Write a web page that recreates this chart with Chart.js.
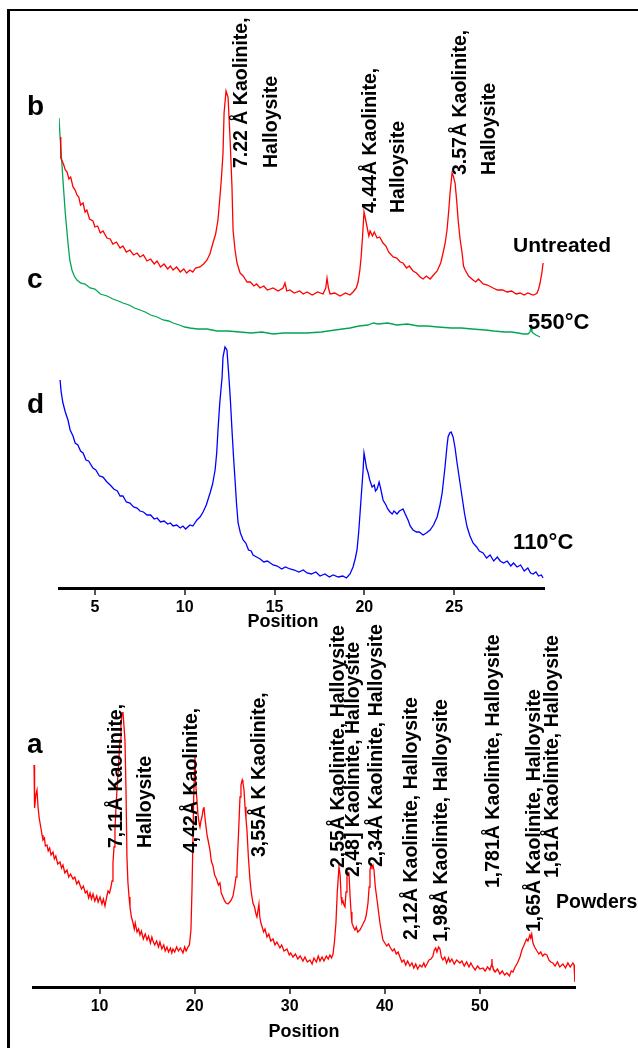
<!DOCTYPE html>
<html>
<head>
<meta charset="utf-8">
<title>XRD patterns - kaolinite / halloysite</title>
<script src="https://cdn.jsdelivr.net/npm/chart.js"></script>
<style>
  body { margin: 0; background: #fff; }
  #page { position: relative; width: 638px; height: 1048px; overflow: hidden; background: #fff; }
  #frame { position: absolute; left: 7px; top: 9px; right: -5px; bottom: -5px;
           border-left: 3px solid #000; border-top: 2px solid #000; }
  canvas { position: absolute; left: 0; }
  #topChart { top: 0; }
  #bottomChart { top: 600px; }
</style>
<script>
    // tick values on the two Position axes
    const topTicks = [5, 10, 15, 20, 25];
    const bottomTicks = [10, 20, 30, 40, 50];

    // [position, intensity] - intensities in arbitrary units, traces offset for stacking
    // b: untreated
    const untreated = [
        [3.09,451],[3.10,430],[3.25,424],[3.35,418],[3.45,416],[3.55,409],[3.65,411],[3.78,401],[3.90,398],[4.00,393],
        [4.10,391],[4.20,383],[4.34,385],[4.45,376],[4.55,378],[4.70,369],[4.89,367],[5.00,361],[5.15,362],[5.30,355],
        [5.45,357],[5.67,350],[5.85,349],[6.00,344],[6.20,346],[6.40,340],[6.56,342],[6.75,336],[6.95,338],[7.15,333],
        [7.35,335],[7.51,331],[7.70,333],[7.90,327],[8.10,329],[8.30,324],[8.46,327],[8.65,321],[8.85,324],[9.05,319],
        [9.20,322],[9.35,318],[9.55,321],[9.75,316],[9.95,319],[10.10,315],[10.29,318],[10.45,316],[10.60,320],[10.85,321],
        [11.05,324],[11.24,328],[11.40,334],[11.57,345],[11.72,354],[11.85,368],[11.96,391],[12.05,412],[12.13,435],[12.19,475],
        [12.30,497],[12.41,491],[12.52,451],[12.63,401],[12.69,358],[12.80,338],[12.91,325],[13.08,315],[13.25,312],[13.47,306],
        [13.65,306],[13.85,302],[14.00,304],[14.19,300],[14.40,302],[14.60,298],[14.92,300],[15.20,297],[15.47,300],[15.58,305],
        [15.68,297],[15.85,298],[16.10,295],[16.40,297],[16.60,294],[16.81,296],[17.10,293],[17.40,296],[17.70,294],[17.85,300],
        [17.92,310],[18.00,300],[18.09,294],[18.35,295],[18.65,292],[18.95,295],[19.20,293],[19.37,296],[19.55,300],[19.65,306],
        [19.75,318],[19.82,331],[19.90,352],[19.98,376],[20.05,370],[20.15,361],[20.25,352],[20.32,357],[20.45,352],[20.55,356],
        [20.71,350],[20.85,351],[21.04,345],[21.20,342],[21.35,336],[21.60,331],[21.80,330],[22.00,326],[22.15,325],[22.35,320],
        [22.50,322],[22.71,317],[22.90,315],[23.10,311],[23.27,309],[23.45,312],[23.66,309],[23.85,313],[24.05,317],[24.25,325],
        [24.38,335],[24.50,345],[24.60,358],[24.70,378],[24.77,395],[24.88,415],[24.95,412],[25.05,405],[25.15,385],[25.22,368],
        [25.32,350],[25.44,335],[25.52,322],[25.61,318],[25.80,312],[26.05,308],[26.20,306],[26.35,309],[26.61,304],[26.85,303],
        [27.17,300],[27.40,298],[27.70,298],[27.94,296],[28.20,297],[28.45,294],[28.67,295],[28.90,293],[29.10,295],[29.39,293],
        [29.55,294],[29.61,295],[29.70,299],[29.78,305],[29.88,315],[29.95,325]
    ];
    // c: heated to 550 C
    const heated550 = [
        [3.00,470],[3.06,451],[3.14,430],[3.22,408],[3.35,375],[3.50,345],[3.60,328],[3.72,318],[3.85,312],[4.00,308],
        [4.20,305],[4.45,304],[4.73,300],[5.00,299],[5.30,294],[5.67,292],[6.00,289],[6.30,287],[6.56,285],[6.90,283],
        [7.20,280],[7.51,278],[7.80,276],[8.10,273],[8.46,271],[8.80,268],[9.10,267],[9.35,265],[9.70,263],[10.00,261],
        [10.29,260],[10.70,259],[11.24,259],[11.80,257],[12.40,257],[13.08,256],[13.70,255],[14.30,256],[14.92,254],[15.50,255],
        [16.20,255],[16.81,255],[17.60,256],[18.37,258],[19.20,260],[19.70,262],[20.20,263],[20.50,265],[20.76,264],[21.30,265],
        [21.80,263],[22.40,264],[22.99,262],[23.50,262],[24.10,261],[24.83,260],[25.40,260],[26.00,259],[26.72,258],[27.20,257],
        [27.80,256],[28.20,256],[28.56,255],[28.85,254],[29.11,254],[29.22,256],[29.28,261],[29.33,256],[29.39,255],[29.55,253],
        [29.78,251]
    ];
    // d: dried at 110 C
    const heated110 = [
        [3.06,208],[3.12,196],[3.22,185],[3.35,176],[3.50,168],[3.62,158],[3.78,152],[3.90,145],[4.05,143],[4.20,137],
        [4.34,135],[4.50,128],[4.65,127],[4.89,120],[5.05,118],[5.25,112],[5.45,111],[5.67,106],[5.85,103],[6.05,99],
        [6.25,97],[6.40,92],[6.56,92],[6.75,86],[6.95,85],[7.15,81],[7.35,80],[7.51,77],[7.70,76],[7.90,73],
        [8.10,73],[8.30,69],[8.46,70],[8.65,66],[8.85,67],[9.05,64],[9.20,65],[9.35,62],[9.55,63],[9.75,60],
        [9.90,62],[10.05,59],[10.29,63],[10.45,62],[10.68,68],[10.85,71],[11.02,76],[11.20,83],[11.41,95],[11.55,104],
        [11.69,118],[11.78,135],[11.85,158],[11.95,185],[12.08,211],[12.13,231],[12.24,241],[12.35,238],[12.47,208],[12.55,185],
        [12.63,158],[12.72,130],[12.80,108],[12.88,85],[12.97,65],[13.10,55],[13.25,48],[13.40,45],[13.55,38],[13.70,37],
        [13.80,33],[14.00,31],[14.20,29],[14.40,26],[14.60,27],[14.92,23],[15.15,22],[15.40,19],[15.60,21],[15.86,19],
        [16.10,18],[16.35,16],[16.60,18],[16.81,15],[17.05,14],[17.30,16],[17.53,12],[17.80,14],[18.05,11],[18.26,13],
        [18.55,11],[18.80,12],[19.00,10],[19.20,14],[19.37,21],[19.50,30],[19.59,38],[19.68,55],[19.76,75],[19.85,98],
        [19.93,118],[19.98,135],[20.05,128],[20.12,120],[20.21,115],[20.30,108],[20.43,101],[20.55,103],[20.62,97],[20.71,99],
        [20.82,106],[20.90,100],[21.04,88],[21.20,83],[21.30,79],[21.43,76],[21.55,74],[21.65,77],[21.82,74],[21.95,77],
        [22.05,78],[22.15,79],[22.30,73],[22.43,68],[22.55,62],[22.71,58],[22.90,56],[23.05,56],[23.27,53],[23.45,55],
        [23.66,58],[23.85,63],[24.05,71],[24.20,82],[24.33,95],[24.49,121],[24.60,142],[24.66,151],[24.75,155],[24.83,156],
        [24.94,151],[25.05,140],[25.16,125],[25.30,108],[25.44,91],[25.58,74],[25.72,61],[25.88,52],[26.05,45],[26.25,41],
        [26.40,37],[26.61,35],[26.80,30],[27.00,33],[27.20,27],[27.40,31],[27.56,27],[27.75,25],[27.95,27],[28.15,22],
        [28.30,25],[28.50,21],[28.70,23],[28.90,17],[29.10,20],[29.25,15],[29.39,14],[29.55,16],[29.70,12],[29.85,13],
        [29.95,10]
    ];
    // a: powders, wide scan
    const powders = [
        [3.11,222],[3.12,197],[3.21,179],[3.30,192],[3.42,197],[3.53,180],[3.64,170],[3.74,164],[3.85,158],[3.95,152],
        [4.05,147],[4.20,149],[4.30,141],[4.47,142],[4.60,136],[4.75,139],[4.90,132],[5.10,135],[5.25,128],[5.40,131],
        [5.60,123],[5.84,125],[6.00,119],[6.15,122],[6.35,114],[6.58,117],[6.75,110],[6.95,113],[7.21,108],[7.40,110],
        [7.60,103],[7.80,106],[7.94,102],[8.10,98],[8.30,101],[8.50,94],[8.68,96],[8.85,89],[9.00,94],[9.15,88],
        [9.31,93],[9.50,86],[9.70,91],[9.85,85],[10.05,90],[10.25,83],[10.40,88],[10.57,81],[10.75,90],[10.89,96],
        [11.05,94],[11.20,100],[11.31,106],[11.41,124],[11.52,140],[11.62,157],[11.72,178],[11.83,197],[11.95,215],[12.15,247],
        [12.25,262],[12.36,274],[12.46,275],[12.56,262],[12.67,247],[12.78,197],[12.88,130],[12.98,105],[13.10,90],[13.20,80],
        [13.35,70],[13.52,64],[13.65,58],[13.75,64],[13.94,55],[14.10,58],[14.25,52],[14.40,56],[14.60,48],[14.80,53],
        [14.99,47],[15.15,51],[15.35,44],[15.50,50],[15.62,46],[15.80,42],[16.00,46],[16.20,40],[16.35,45],[16.55,38],
        [16.75,42],[16.90,36],[17.09,40],[17.25,35],[17.45,39],[17.60,34],[17.72,38],[17.90,35],[18.10,40],[18.30,36],
        [18.50,39],[18.77,34],[18.95,40],[19.10,36],[19.30,40],[19.45,42],[19.61,57],[19.72,97],[19.82,147],[19.90,190],
        [20.03,230],[20.10,205],[20.24,187],[20.35,172],[20.45,165],[20.56,160],[20.66,166],[20.77,170],[20.90,178],[20.98,180],
        [21.10,168],[21.20,160],[21.30,152],[21.45,145],[21.61,137],[21.75,126],[21.93,121],[22.10,112],[22.30,108],[22.50,102],
        [22.66,104],[22.80,94],[22.98,90],[23.15,86],[23.30,84],[23.50,83],[23.70,85],[23.85,87],[24.03,91],[24.20,100],
        [24.35,110],[24.45,118],[24.55,140],[24.66,164],[24.77,190],[24.87,202],[25.00,207],[25.08,204],[25.19,197],[25.30,180],
        [25.40,168],[25.50,157],[25.65,130],[25.82,107],[25.95,95],[26.13,84],[26.30,80],[26.45,73],[26.55,70],[26.65,76],
        [26.76,83],[26.85,70],[26.97,64],[27.10,60],[27.25,55],[27.40,58],[27.61,50],[27.80,53],[28.00,46],[28.24,48],
        [28.45,42],[28.65,45],[28.97,39],[29.15,42],[29.40,36],[29.71,38],[29.95,32],[30.10,34],[30.34,30],[30.60,33],
        [30.85,28],[31.10,31],[31.39,26],[31.60,30],[31.85,25],[32.13,27],[32.35,23],[32.55,29],[32.80,25],[33.00,31],
        [33.18,26],[33.40,30],[33.60,26],[33.85,31],[34.05,28],[34.23,32],[34.40,29],[34.55,33],[34.70,45],[34.86,64],
        [35.00,95],[35.18,120],[35.30,112],[35.40,90],[35.49,84],[35.60,86],[35.70,82],[35.81,80],[35.92,95],[36.02,110],
        [36.10,115],[36.23,114],[36.35,90],[36.45,75],[36.54,64],[36.70,60],[36.86,57],[37.00,60],[37.15,55],[37.38,57],
        [37.55,60],[37.70,63],[37.91,67],[38.05,72],[38.23,84],[38.35,100],[38.44,117],[38.55,122],[38.65,120],[38.75,122],
        [38.86,117],[39.00,100],[39.17,88],[39.30,78],[39.49,64],[39.65,55],[39.80,47],[40.00,44],[40.20,41],[40.40,43],
        [40.54,40],[40.80,36],[41.00,38],[41.20,33],[41.40,35],[41.59,30],[41.80,25],[42.00,27],[42.20,22],[42.40,26],
        [42.64,21],[42.85,24],[43.05,19],[43.25,23],[43.45,18],[43.69,22],[43.90,20],[44.10,24],[44.25,20],[44.43,23],
        [44.65,27],[44.85,28],[45.06,31],[45.20,37],[45.35,39],[45.48,35],[45.65,40],[45.80,38],[45.95,30],[46.11,27],
        [46.30,30],[46.50,24],[46.70,29],[46.85,25],[47.05,28],[47.30,23],[47.55,27],[47.90,24],[48.10,26],[48.35,21],
        [48.60,25],[48.85,20],[49.05,24],[49.27,20],[49.50,17],[49.75,21],[50.00,18],[50.32,19],[50.55,16],[50.80,20],
        [51.05,17],[51.22,22],[51.26,28],[51.30,21],[51.37,19],[51.60,15],[51.85,18],[52.10,13],[52.35,16],[52.60,12],
        [52.84,14],[53.10,11],[53.30,16],[53.47,15],[53.70,20],[53.95,24],[54.21,30],[54.45,38],[54.60,41],[54.73,44],
        [54.90,48],[55.05,46],[55.26,52],[55.35,49],[55.45,53],[55.58,44],[55.75,40],[56.00,36],[56.20,33],[56.40,35],
        [56.60,31],[56.80,33],[57.05,32],[57.25,27],[57.45,25],[57.68,24],[57.90,21],[58.15,25],[58.40,20],[58.73,23],
        [59.00,19],[59.25,24],[59.50,20],[59.78,24],[59.90,22],[59.99,5]
    ];

    // text placed in data units: up = rotated, reading bottom to top
    const topLabels = [
        { text: 'b', x: 1.22, y: 473, size: 28 },
        { text: 'c', x: 1.22, y: 300, size: 28 },
        { text: 'd', x: 1.22, y: 175, size: 28 },
        { text: '7.22 Å Kaolinite,', x: 13.19, y: 420, up: true },
        { text: 'Halloysite', x: 14.86, y: 420, up: true },
        { text: '4.44Å Kaolinite,', x: 20.37, y: 375, up: true },
        { text: 'Halloysite', x: 21.88, y: 375, up: true },
        { text: '3.57Å Kaolinite,', x: 25.38, y: 413, up: true },
        { text: 'Halloysite', x: 27.0, y: 413, up: true },
        { text: 'Untreated', x: 28.28, y: 336, size: 21 },
        { text: '550°C', x: 29.11, y: 259, size: 22 },
        { text: '110°C', x: 28.28, y: 39, size: 22 },
        { text: 'Position', x: 15.47, y: -39, size: 18, center: true }
    ];
    const bottomLabels = [
        { text: 'a', x: 2.37, y: 234, size: 28 },
        { text: '7,11Å Kaolinite,', x: 11.83, y: 139, up: true },
        { text: 'Halloysite', x: 14.88, y: 139, up: true },
        { text: '4,42Å Kaolinite,', x: 19.72, y: 134, up: true },
        { text: '3,55Å K Kaolinite,', x: 26.87, y: 130, up: true },
        { text: '2,55Å Kaolinite, Halloysite', x: 35.18, y: 119, up: true },
        { text: '2,48] Kaolinite, Halloysite', x: 36.75, y: 110, up: true },
        { text: '2,34Å Kaolinite, Halloysite', x: 39.17, y: 120, up: true },
        { text: '2,12Å Kaolinite, Halloysite', x: 42.85, y: 47, up: true },
        { text: '1,98Å Kaolinite, Halloysite', x: 46.01, y: 45, up: true },
        { text: '1,781Å Kaolinite, Halloysite', x: 51.48, y: 99, up: true },
        { text: '1,65Å Kaolinite, Halloysite', x: 55.79, y: 55, up: true },
        { text: '1,61Å Kaolinite, Halloysite', x: 57.68, y: 109, up: true },
        { text: 'Powders', x: 58.0, y: 79, size: 19.5 }
    ];

    const FONT = '"Liberation Sans", Arial, Helvetica, sans-serif';

    const textLabels = {
        id: 'textLabels',
        afterDatasetsDraw(chart, args, opts) {
            const ctx = chart.ctx;
            const xs = chart.scales.x, ys = chart.scales.y;
            ctx.save();
            ctx.fillStyle = '#000';
            opts.items.forEach(function (l) {
                const px = xs.getPixelForValue(l.x);
                const py = ys.getPixelForValue(l.y);
                ctx.font = 'bold ' + (l.size || 19.5) + 'px ' + FONT;
                ctx.textAlign = l.center ? 'center' : 'left';
                if (l.up) {
                    ctx.save();
                    ctx.translate(px, py);
                    ctx.rotate(-Math.PI / 2);
                    ctx.textBaseline = 'middle';
                    ctx.fillText(l.text, 0, 0);
                    ctx.restore();
                } else {
                    ctx.textBaseline = 'alphabetic';
                    ctx.fillText(l.text, px, py);
                }
            });
            ctx.restore();
        }
    };

    function toPoints(arr) {
        return arr.map(function (p) { return { x: p[0], y: p[1] }; });
    }

    function makeChart(id, cfg) {
        const ctx = document.getElementById(id).getContext('2d');
        return new Chart(ctx, {
            type: 'line',
            data: {
                datasets: cfg.series.map(function (s) {
                    return {
                        data: toPoints(s.data),
                        borderColor: s.color,
                        borderWidth: 1.3,
                        pointRadius: 0,
                        tension: 0,
                        fill: false
                    };
                })
            },
            options: {
                responsive: false,
                animation: false,
                devicePixelRatio: 1,
                layout: { padding: cfg.padding },
                plugins: {
                    legend: { display: false },
                    tooltip: { enabled: false },
                    textLabels: { items: cfg.labels }
                },
                scales: {
                    x: {
                        type: 'linear',
                        min: cfg.xMin,
                        max: cfg.xMax,
                        afterBuildTicks: function (scale) {
                            scale.ticks = cfg.ticks.map(function (v) { return { value: v }; });
                        },
                        afterFit: function (scale) { scale.height = cfg.axisHeight; },
                        border: { display: true, color: '#000', width: 3 },
                        grid: { drawOnChartArea: false, drawTicks: true, tickLength: 7, color: '#555', lineWidth: 2 },
                        ticks: {
                            padding: 3, color: '#000', autoSkip: false, maxRotation: 0,
                            font: { family: FONT, size: 16, weight: 'bold' }
                        },
                        title: {
                            display: cfg.axisTitle, text: 'Position', color: '#000', padding: 0,
                            font: { family: FONT, size: 18, weight: 'bold' }
                        }
                    },
                    y: { display: false, min: 0, max: cfg.yMax }
                }
            },
            plugins: [textLabels]
        });
    }

    document.addEventListener('DOMContentLoaded', function () {
        // top panel: its axis caption sits left of centre, so it is drawn with the labels
        makeChart('topChart', {
            series: [
                { data: untreated, color: '#ff0000' },
                { data: heated550, color: '#00a651' },
                { data: heated110, color: '#0000ff' }
            ],
            ticks: topTicks, xMin: 3, xMax: 30, yMax: 558, axisHeight: 44, axisTitle: false,
            padding: { left: 59, right: 94, top: 30, bottom: 8 },
            labels: topLabels
        });
        makeChart('bottomChart', {
            series: [{ data: powders, color: '#ff0000' }],
            ticks: bottomTicks, xMin: 3, xMax: 60, yMax: 347, axisHeight: 56, axisTitle: true,
            padding: { left: 33, right: 63, top: 40, bottom: 5 },
            labels: bottomLabels
        });
    });
</script>
</head>
<body>
<div id="page">
    <div id="frame"></div>
    <canvas id="topChart" width="638" height="640"></canvas>
    <canvas id="bottomChart" width="638" height="448"></canvas>
</div>
</body>
</html>
